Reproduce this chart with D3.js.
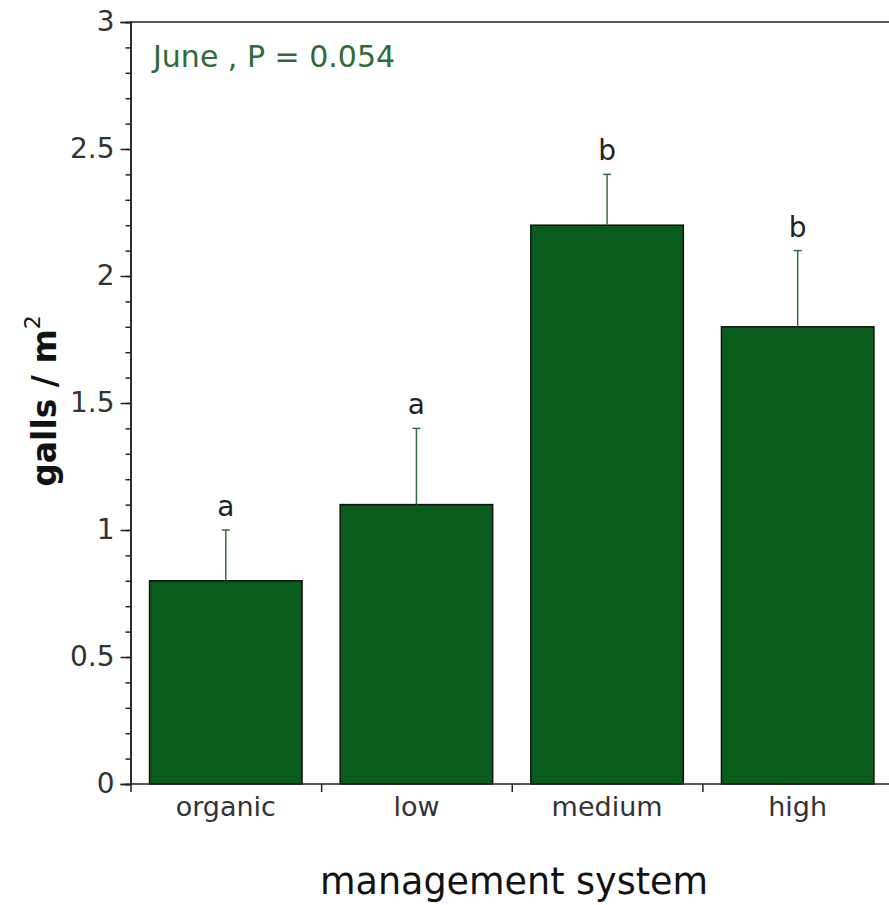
<!DOCTYPE html>
<html>
<head>
<meta charset="utf-8">
<script src="https://cdn.jsdelivr.net/npm/d3@7"></script>
<style>
	body { margin: 0; background: #fff; }
	svg, svg text { font-family: "DejaVu Sans", sans-serif; }
	.axis path, .axis line { stroke: #222; stroke-width: 1.5; }
	.axis text { fill: #333; font-family: "DejaVu Sans", sans-serif; }
	.yaxis text { font-size: 28px; }
	.xaxis text { font-size: 27px; }
</style>
</head>
<body>
<svg width="889" height="905"></svg>
<script>
//* data
const categories = ["organic", "low", "medium", "high"];
const means = [0.8, 1.1, 2.2, 1.8];
const errTops = [1.0, 1.4, 2.4, 2.1];
const letters = ["a", "a", "b", "b"];
const yTicks = [0, 0.5, 1, 1.5, 2, 2.5, 3];
const yMinor = d3.range(0, 31).map((d) => d / 10);

const svg = d3.select("svg");

//* scales
const x = d3
	.scaleBand()
	.domain(categories)
	.range([130.5, 893])
	.paddingInner(0.2)
	.paddingOuter(0.1);
const xEdge = d3.scaleLinear().domain([0, 4]).range([130.5, 893]);
const y = d3.scaleLinear().domain([0, 3]).range([784, 22]);

//* frame top line
svg.append("line")
	.attr("x1", 130.5).attr("x2", 889)
	.attr("y1", y(3)).attr("y2", y(3))
	.attr("stroke", "#222").attr("stroke-width", 1.5);

//* bars
svg.selectAll("rect.bar")
	.data(categories)
	.enter()
	.append("rect")
	.attr("class", "bar")
	.attr("x", (d) => x(d))
	.attr("y", (_, i) => y(means[i]))
	.attr("width", x.bandwidth())
	.attr("height", (_, i) => y(0) - y(means[i]))
	.attr("fill", "#0a5c1c")
	.attr("stroke", "#111")
	.attr("stroke-width", 1.5);

//* error bars
const err = svg.selectAll("g.err")
	.data(categories)
	.enter()
	.append("g")
	.attr("class", "err")
	.attr("transform", (d) => `translate(${x(d) + x.bandwidth() / 2}, 0)`);
err.append("line")
	.attr("y1", (_, i) => y(means[i]))
	.attr("y2", (_, i) => y(errTops[i]))
	.attr("stroke", "#2f6f3c").attr("stroke-width", 1.5);
err.append("line")
	.attr("x1", -4).attr("x2", 4)
	.attr("y1", (_, i) => y(errTops[i]))
	.attr("y2", (_, i) => y(errTops[i]))
	.attr("stroke", "#2f6f3c").attr("stroke-width", 1.5);
err.append("text")
	.attr("y", (_, i) => y(errTops[i]) - 14)
	.attr("text-anchor", "middle")
	.attr("fill", "#222")
	.style("font-size", "28px")
	.text((_, i) => letters[i]);

//* axes
svg.append("g")
	.attr("class", "axis yaxis")
	.attr("transform", "translate(130.5, 0)")
	.call(d3.axisLeft(y).tickValues(yMinor).tickSize(5).tickFormat(""));
svg.append("g")
	.attr("class", "axis yaxis")
	.attr("transform", "translate(130.5, 0)")
	.call(d3.axisLeft(y).tickValues(yTicks).tickSize(10).tickPadding(6).tickFormat((d) => d));

svg.append("g")
	.attr("class", "axis")
	.attr("transform", `translate(0, ${y(0)})`)
	.call(d3.axisBottom(xEdge).tickValues([0, 1, 2, 3, 4]).tickSize(8).tickFormat(""))
	.select(".domain").attr("d", `M130.5,0H889`);
svg.append("g")
	.attr("class", "axis xaxis")
	.attr("transform", `translate(0, ${y(0)})`)
	.call(d3.axisBottom(x).tickSize(0).tickPadding(13))
	.call((g) => g.select(".domain").remove());

//* labels
svg.append("text")
	.attr("x", 514)
	.attr("y", 894)
	.attr("text-anchor", "middle")
	.attr("fill", "#111")
	.style("font-size", "36.5px")
	.text("management system");

const yLab = svg.append("text")
	.attr("transform", "translate(56, 401) rotate(-90)")
	.attr("text-anchor", "middle")
	.attr("fill", "#111")
	.style("font-size", "33px")
	.style("font-weight", "bold");
yLab.append("tspan").text("galls / m");
yLab.append("tspan").attr("dy", -16).style("font-size", "22px").style("font-weight", "normal").text("2");

svg.append("text")
	.attr("x", 153)
	.attr("y", 67)
	.attr("fill", "#2e6b37")
	.style("font-size", "30px")
	.text("June , P = 0.054");
</script>
</body>
</html>
